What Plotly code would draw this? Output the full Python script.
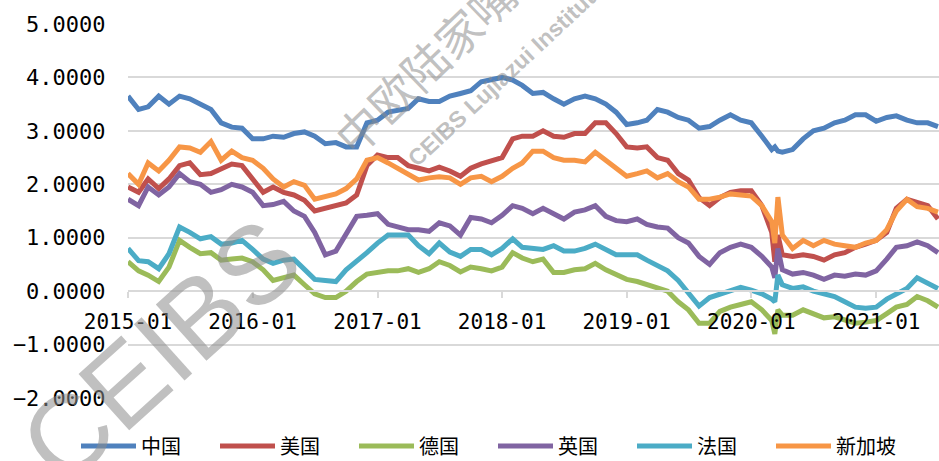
import plotly.graph_objects as go

# ---- dates: first of each month 2015-01 .. 2021-07, plus two mid-March-2020 points ----
dates = [f"{y}-{m:02d}-01" for y in range(2015, 2022) for m in range(1, 13) if (y, m) <= (2021, 7)]
dates = dates[:63] + ["2020-03-10", "2020-03-19"] + dates[63:]

series_names = ["中国", "美国", "德国", "英国", "法国", "新加坡"]

china = [3.65, 3.40, 3.45, 3.65, 3.50, 3.65, 3.60, 3.50, 3.40, 3.15, 3.07, 3.05,
         2.85, 2.85, 2.90, 2.88, 2.95, 2.98, 2.90, 2.76, 2.78, 2.70, 2.70, 3.15,
         3.20, 3.35, 3.38, 3.42, 3.60, 3.55, 3.55, 3.65, 3.70, 3.75, 3.92, 3.95,
         4.00, 3.95, 3.85, 3.70, 3.72, 3.60, 3.50, 3.60, 3.65, 3.60, 3.50, 3.35,
         3.12, 3.15, 3.20, 3.40, 3.35, 3.25, 3.20, 3.05, 3.08, 3.20, 3.30, 3.20,
         3.15, 2.90, 2.65, 2.70, 2.62, 2.60, 2.65, 2.85, 3.00, 3.05, 3.15, 3.20, 3.30, 3.30,
         3.18, 3.25, 3.28, 3.20, 3.15, 3.15, 3.08]

usa = [1.95, 1.85, 2.10, 1.92, 2.10, 2.35, 2.40, 2.18, 2.20, 2.30, 2.38, 2.35,
       2.10, 1.85, 1.95, 1.85, 1.80, 1.70, 1.50, 1.55, 1.62, 1.65, 1.80, 2.35,
       2.55, 2.50, 2.50, 2.35, 2.30, 2.25, 2.32, 2.25, 2.15, 2.30, 2.38, 2.45,
       2.50, 2.85, 2.90, 2.90, 3.00, 2.90, 2.88, 2.95, 2.95, 3.15, 3.15, 2.95,
       2.70, 2.68, 2.70, 2.50, 2.45, 2.20, 2.08, 1.75, 1.60, 1.75, 1.85, 1.88,
       1.88, 1.60, 1.10, 0.55, 1.05, 0.68, 0.65, 0.68, 0.65, 0.58, 0.68, 0.72, 0.82, 0.88,
       0.95, 1.10, 1.55, 1.72, 1.65, 1.60, 1.35]

germany = [0.55, 0.38, 0.30, 0.18, 0.45, 0.95, 0.82, 0.70, 0.72, 0.58, 0.60, 0.62,
           0.55, 0.40, 0.20, 0.25, 0.30, 0.12, -0.05, -0.12, -0.12, 0.00, 0.18, 0.32,
           0.35, 0.38, 0.38, 0.42, 0.35, 0.42, 0.55, 0.48, 0.36, 0.45, 0.42, 0.38,
           0.45, 0.72, 0.62, 0.55, 0.60, 0.35, 0.35, 0.40, 0.42, 0.52, 0.40, 0.30,
           0.22, 0.18, 0.12, 0.05, 0.00, -0.20, -0.35, -0.60, -0.60, -0.38, -0.30, -0.25,
           -0.20, -0.35, -0.55, -0.80, -0.35, -0.45, -0.45, -0.35, -0.42, -0.50, -0.48, -0.55, -0.60, -0.58,
           -0.55, -0.42, -0.30, -0.25, -0.10, -0.18, -0.30]

uk = [1.72, 1.60, 1.95, 1.80, 1.95, 2.20, 2.05, 2.00, 1.85, 1.90, 2.00, 1.95,
      1.85, 1.60, 1.62, 1.68, 1.50, 1.40, 1.10, 0.68, 0.75, 1.05, 1.40, 1.42,
      1.45, 1.25, 1.20, 1.15, 1.15, 1.12, 1.28, 1.22, 1.05, 1.38, 1.35, 1.28,
      1.42, 1.60, 1.55, 1.45, 1.55, 1.45, 1.35, 1.48, 1.52, 1.60, 1.40, 1.32,
      1.30, 1.35, 1.25, 1.20, 1.18, 1.00, 0.90, 0.65, 0.50, 0.72, 0.82, 0.88,
      0.82, 0.65, 0.45, 0.25, 0.80, 0.40, 0.32, 0.35, 0.30, 0.22, 0.30, 0.28, 0.32, 0.30,
      0.38, 0.60, 0.82, 0.85, 0.92, 0.85, 0.72]

france = [0.80, 0.57, 0.55, 0.42, 0.70, 1.20, 1.10, 0.98, 1.02, 0.88, 0.90, 0.95,
          0.78, 0.60, 0.52, 0.58, 0.60, 0.42, 0.22, 0.20, 0.18, 0.40, 0.55, 0.72,
          0.90, 1.05, 1.05, 1.05, 0.85, 0.70, 0.90, 0.73, 0.65, 0.78, 0.78, 0.68,
          0.80, 0.98, 0.82, 0.80, 0.78, 0.85, 0.75, 0.75, 0.80, 0.88, 0.78, 0.68,
          0.68, 0.68, 0.58, 0.48, 0.38, 0.20, -0.05, -0.28, -0.12, -0.05, 0.02, 0.07,
          0.02, -0.05, -0.15, -0.20, 0.30, 0.12, 0.05, 0.08, 0.00, -0.05, -0.10, -0.20, -0.30, -0.32,
          -0.30, -0.15, -0.05, 0.05, 0.25, 0.15, 0.05]

singapore = [2.20, 2.00, 2.40, 2.25, 2.45, 2.70, 2.68, 2.60, 2.80, 2.45, 2.62, 2.50,
             2.45, 2.30, 2.10, 1.95, 2.05, 1.98, 1.72, 1.76, 1.82, 1.92, 2.10, 2.45,
             2.50, 2.40, 2.30, 2.20, 2.08, 2.12, 2.14, 2.12, 2.00, 2.12, 2.15, 2.05,
             2.15, 2.30, 2.40, 2.62, 2.62, 2.50, 2.45, 2.45, 2.42, 2.60, 2.45, 2.30,
             2.15, 2.20, 2.25, 2.12, 2.20, 2.05, 1.95, 1.72, 1.72, 1.76, 1.82, 1.80,
             1.78, 1.60, 1.30, 0.90, 1.76, 1.05, 0.80, 0.95, 0.85, 0.95, 0.88, 0.85, 0.82, 0.90,
             0.95, 1.15, 1.50, 1.72, 1.58, 1.55, 1.48]

x_tick_vals = ["2015-01-01", "2016-01-01", "2017-01-01", "2018-01-01", "2019-01-01", "2020-01-01", "2021-01-01"]
x_tick_labels = ["2015-01", "2016-01", "2017-01", "2018-01", "2019-01", "2020-01", "2021-01"]
y_tick_vals = [-2, -1, 0, 1, 2, 3, 4, 5]

colors = ["#4F81BD", "#C0504D", "#9BBB59", "#8064A2", "#4BACC6", "#F79646"]
all_values = [china, usa, germany, uk, france, singapore]

fig = go.Figure()
for name, vals, col in zip(series_names, all_values, colors):
    fig.add_trace(go.Scatter(x=dates, y=vals, mode="lines", name=name,
                             line=dict(color=col, width=5)))

W, H = 939, 461
L, R, T, B = 128, 0, 24, 63
pw, ph = W - L - R, H - T - B

def px(x):
    return (x - L) / pw

def py(y):
    return (H - B - y) / ph

wm = "rgba(140,140,140,0.55)"
annotations = [
    dict(text="CEIBS", x=px(160), y=py(350), xref="paper", yref="paper", showarrow=False,
         xanchor="center", yanchor="middle",
         textangle=-42, font=dict(family="Liberation Sans", size=110, color=wm)),
    dict(text="中欧陆家嘴", x=px(424), y=py(64), xref="paper", yref="paper", showarrow=False,
         xanchor="center", yanchor="middle",
         textangle=-44, font=dict(family="Noto Sans CJK SC", size=46, color=wm)),
    dict(text="<b>CEIBS Lujiazui Institute</b>", x=px(506), y=py(74), xref="paper", yref="paper",
         xanchor="center", yanchor="middle",
         showarrow=False, textangle=-43, font=dict(family="Liberation Sans", size=23, color=wm)),
]

fig.update_layout(
    width=W, height=H,
    margin=dict(l=L, r=R, t=T, b=B, autoexpand=False),
    plot_bgcolor="white", paper_bgcolor="white",
    showlegend=True,
    legend=dict(orientation="h", x=px(76), y=py(446), xanchor="left", yanchor="middle",
                font=dict(family="Noto Sans CJK SC", size=20, color="#000000"),
                itemwidth=55, entrywidth=69, entrywidthmode="pixels",
                bgcolor="rgba(0,0,0,0)"),
    xaxis=dict(type="date", range=["2015-01-01", "2021-07-04"],
               tickvals=x_tick_vals, ticktext=x_tick_labels,
               anchor="free", position=2 / 7,
               showgrid=False, zeroline=False, showline=True, linecolor="#D9D9D9", linewidth=1.5,
               ticks="outside", ticklen=6, tickcolor="#D9D9D9", tickwidth=1.5,
               ticklabelstandoff=6,
               tickfont=dict(family="DejaVu Sans Mono", size=21, color="#000000")),
    yaxis=dict(range=[-2, 5], tickvals=y_tick_vals, tickformat=".4f",
               showgrid=True, gridcolor="#D9D9D9", gridwidth=1.5, zeroline=False,
               ticks="outside", ticklen=17, tickcolor="rgba(0,0,0,0)",
               tickfont=dict(family="DejaVu Sans Mono", size=22, color="#000000")),
    annotations=annotations,
)

fig.write_html("out.html", config={"displayModeBar": False},
               post_script="document.body.style.margin='0';")
